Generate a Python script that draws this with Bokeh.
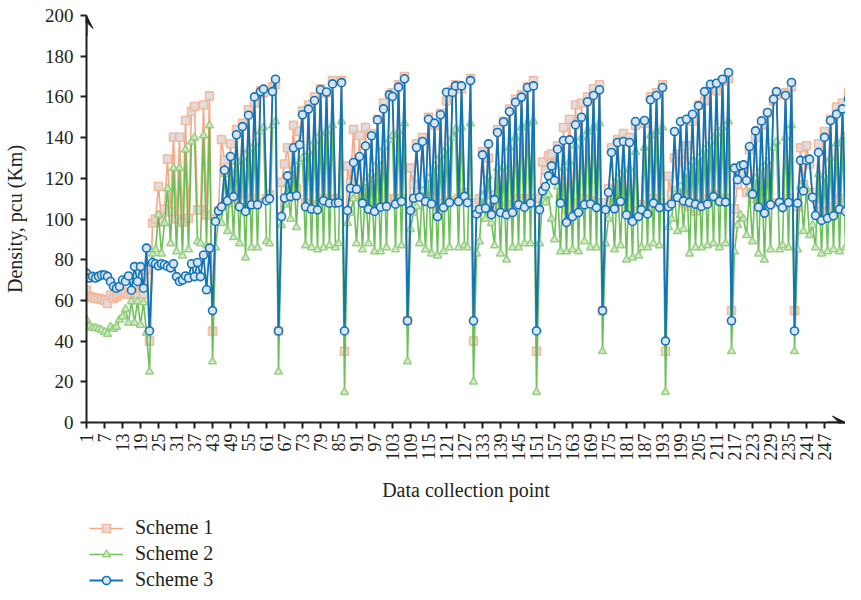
import math
from bokeh.plotting import figure
from bokeh.layouts import column
from bokeh.models import FixedTicker, Legend, LegendItem, Arrow, VeeHead, Range1d
from bokeh.embed import file_html
from bokeh.resources import INLINE

# ---------------- data ----------------
scheme1 = [
    65, 62, 61.5, 61, 61, 60.5, 60, 58.5, 62.5, 61, 62, 63, 64, 64, 63, 63, 64, 63, 66, 63, 75,
    40,
    98, 100, 116, 98.6, 104.8, 129.4, 103.5, 140.2, 100, 140.2, 98.6, 148.4, 100.4, 152.8, 155.3, 104.5, 104.5, 156, 102, 160.5,
    45,
    100, 104, 139, 129, 108, 137, 110, 143.9, 112, 147, 105, 153.7, 110, 157, 108, 163, 162, 110, 112, 165, 166,
    45,
    118, 127, 135, 120, 146, 115, 143, 153, 108, 156, 107, 160, 106, 164, 110, 162, 108, 168, 110, 109, 168,
    35,
    126, 118, 144, 112, 141, 110, 145, 106, 142, 105, 149, 108, 157, 110, 161, 162, 110, 166, 110, 170,
    50,
    125, 117, 137, 113, 140, 110, 150, 111, 146, 106, 152, 108, 158, 109, 163, 166, 110, 164, 113, 110, 169,
    40,
    108, 110, 133, 112, 130, 106, 112, 144, 106, 148, 105, 154, 107, 159, 110, 161, 109, 165, 110, 168,
    35,
    110, 128, 124, 131, 132, 127, 136, 110, 145, 105, 149, 106, 156, 108, 157, 110, 160, 109, 164, 108, 166,
    55,
    108, 115, 135, 108, 139, 110, 142, 105, 140, 102, 146, 104, 107, 147, 106, 160, 110, 162, 108, 166,
    35,
    121, 112, 130, 114, 132, 108, 136, 106, 148, 104, 156, 108, 158, 110, 164, 112, 163, 110, 168, 110, 169,
    55,
    105, 117, 122, 123, 113, 134, 110, 140, 110, 146, 106, 152, 108, 158, 161, 108, 107, 162, 110, 165,
    55,
    106, 135, 117, 136, 127, 113, 110, 137, 104, 143, 103, 149, 106, 155, 110, 157, 108, 162,
]

scheme2 = [
    50.5, 47.5, 46.5, 46.5, 46, 45.5, 44.5, 43.5, 47, 46, 47, 50.5, 52, 55.7, 49, 59.5, 49, 59.5, 48, 59, 44,
    25,
    83, 85, 102, 83, 98, 115, 88, 125, 84, 125, 82, 134, 85, 138, 140, 89, 88, 141, 87, 146,
    30,
    86, 100, 98, 122, 94, 124, 91, 128, 88, 130, 81, 134, 86, 137, 86, 143, 145, 89, 88, 146, 148,
    25,
    97, 107, 117, 100, 125, 96, 128, 130, 87, 133, 86, 138, 85, 142, 86, 143, 87, 146, 86, 88, 148,
    15,
    98, 103, 110, 88, 115, 85, 118, 88, 122, 84, 128, 84, 135, 86, 139, 141, 85, 143, 87, 147,
    30,
    95, 103, 106, 88, 114, 85, 120, 83, 126, 82, 131, 84, 135, 86, 140, 144, 86, 145, 87, 86, 147,
    20,
    83, 89, 111, 100, 121, 98, 87, 125, 83, 126, 80, 135, 86, 140, 86, 145, 88, 147, 88, 148,
    15,
    88, 109, 108, 112, 100, 90, 116, 84, 125, 84, 128, 85, 136, 84, 140, 89, 143, 86, 145, 86, 147,
    35,
    88, 100, 114, 85, 120, 87, 124, 80, 125, 81, 133, 82, 86, 135, 86, 141, 88, 143, 87, 145,
    15,
    96, 100, 112, 94, 116, 95, 123, 83, 128, 86, 130, 86, 134, 87, 138, 88, 142, 86, 145, 88, 148,
    35,
    84, 97, 102, 100, 92, 113, 89, 120, 83, 125, 80, 128, 85, 135, 138, 85, 87, 140, 86, 146,
    35,
    85, 116, 94, 115, 92, 97, 86, 122, 83, 121, 84, 130, 85, 137, 84, 139, 86, 143,
]

scheme3 = [
    73.4, 71.0, 71.8, 71.0, 71.8, 72.5, 72.5, 71.8, 69.3, 66.8, 66.0, 66.8, 70.0, 69.3, 72.0, 65.0, 76.6, 69.3, 76.6, 66.0, 85.7,
    45,
    78.6, 78.0, 77.0, 78.0, 77.5, 76.7, 76.0, 78.0, 71.7, 69.3, 70.0, 72.0, 71.0, 78.0, 71.7, 78.6, 71.7, 82.3, 65.2, 85.7,
    55,
    98.8, 104.0, 106.0, 124.0, 109.0, 130.7, 111.0, 141.4, 106.0, 145.4, 103.7, 151.0, 107.0, 160.0, 107.0, 162.6, 163.8, 109.0, 110.0, 162.6, 168.7,
    45,
    101.2, 110.3, 121.2, 111.0, 135.0, 111.4, 136.5, 151.2, 106.0, 154.0, 104.9, 158.2, 104.5, 163.5, 109.0, 162.4, 107.8, 166.4, 107.8, 108.0, 167.0,
    45,
    104.2, 115.1, 127.8, 114.6, 130.7, 107.8, 135.9, 104.8, 140.9, 103.7, 148.7, 105.8, 154.1, 106.2, 161.0, 160.2, 107.3, 164.8, 108.6, 168.9,
    50,
    104.2, 110.2, 135.1, 110.7, 138.1, 108.6, 149.0, 107.4, 147.1, 101.2, 151.2, 105.6, 162.3, 108.1, 162.2, 165.4, 108.6, 165.4, 111.1, 108.0, 168.0,
    50,
    102.5, 104.8, 131.5, 105.3, 136.9, 102.1, 109.5, 142.5, 103.2, 147.7, 102.1, 152.8, 103.2, 157.4, 107.0, 159.9, 105.8, 164.6, 107.8, 165.4,
    45,
    104.6, 113.8, 116.0, 121.2, 126.1, 118.9, 134.3, 107.8, 138.6, 98.3, 138.9, 101.2, 146.3, 103.2, 150.0, 107.0, 157.6, 107.4, 160.7, 105.6, 163.5,
    55,
    104.6, 113.0, 132.7, 105.0, 137.6, 108.6, 138.1, 102.0, 137.6, 98.8, 147.9, 101.2, 104.6, 148.4, 102.5, 158.6, 107.8, 160.7, 105.6, 164.6,
    40,
    106.0, 107.4, 143.0, 110.6, 147.9, 108.9, 149.0, 108.1, 151.5, 107.3, 155.6, 106.2, 162.6, 107.3, 166.2, 111.0, 166.7, 108.6, 168.7, 108.3, 172.0,
    50,
    125.0, 119.3, 126.1, 126.6, 118.9, 135.6, 112.2, 143.3, 105.8, 148.2, 102.9, 152.3, 107.0, 158.9, 162.6, 108.1, 105.6, 160.7, 108.1, 167.1,
    45,
    107.8, 128.8, 113.8, 128.8, 129.4, 110.7, 101.7, 132.7, 99.3, 140.1, 100.4, 148.4, 101.6, 151.5, 104.8, 154.1, 103.7, 158.9,
]

x_ticks = [1, 7, 13, 19, 25, 31, 37, 43, 49, 55, 61, 67, 73, 79, 85, 91, 97, 103,
           109, 115, 121, 127, 133, 139, 145, 151, 157, 163, 169, 175, 181, 187,
           193, 199, 205, 211, 217, 223, 229, 235, 241, 247]
y_ticks = [0, 20, 40, 60, 80, 100, 120, 140, 160, 180, 200]
labels = ["Scheme 1", "Scheme 2", "Scheme 3"]

x1 = list(range(1, len(scheme1) + 1))
x2 = list(range(1, len(scheme2) + 1))
x3 = list(range(1, len(scheme3) + 1))
series = [(x1, scheme1), (x2, scheme2), (x3, scheme3)]

# ---------------- styles ----------------
INK = "#231f20"
FONT = "Liberation Serif"

styles = [
    dict(line=dict(line_color="#f5a07c", line_width=1.6, line_alpha=0.9),
         mark=dict(marker="square", size=8, fill_color="#dcdcdc", line_color="#f7b394",
                   line_width=1.6, alpha=0.9)),
    dict(line=dict(line_color="#5cb946", line_width=1.6, line_alpha=0.9),
         mark=dict(marker="triangle", size=8, fill_color="#d8e4d2", line_color="#8dcf73",
                   line_width=1.5, alpha=0.9)),
    dict(line=dict(line_color="#0f74ba", line_width=1.8),
         mark=dict(marker="circle", size=8, fill_color="#dde3ea", line_color="#0f74ba",
                   line_width=1.6)),
]

# ---------------- main figure ----------------
p = figure(width=845, height=513, output_backend="svg", toolbar_location=None,
           x_range=Range1d(1, 254), y_range=Range1d(0, 200),
           min_border_left=79, min_border_right=0, min_border_top=15, min_border_bottom=91)
p.outline_line_color = None
p.xgrid.visible = False
p.ygrid.visible = False
p.background_fill_color = "white"
p.border_fill_color = "white"

for (xs, ys), st in zip(series, styles):
    p.line(xs, ys, **st["line"])
    p.scatter(xs, ys, **st["mark"])

for ax in (p.xaxis[0], p.yaxis[0]):
    ax.axis_line_color = INK
    ax.axis_line_width = 2
    ax.major_tick_line_color = INK
    ax.major_tick_line_width = 2
    ax.major_tick_out = 6
    ax.major_tick_in = 0
    ax.minor_tick_line_color = None
    ax.major_label_text_font = FONT
    ax.major_label_text_color = INK
    ax.axis_label_text_font = FONT
    ax.axis_label_text_font_style = "normal"
    ax.axis_label_text_color = INK
    ax.axis_label_text_font_size = "20px"

p.yaxis.ticker = FixedTicker(ticks=y_ticks)
p.yaxis.major_label_text_font_size = "19px"
p.yaxis.axis_label = "Density, pcu (Km)"
p.yaxis.major_label_standoff = 7
p.yaxis.axis_label_standoff = 16

p.xaxis.ticker = FixedTicker(ticks=x_ticks)
p.xaxis.major_label_text_font_size = "18px"
p.xaxis.major_label_orientation = math.pi / 2
p.xaxis.major_label_standoff = 5
p.xaxis.axis_label = "Data collection point"
p.xaxis.axis_label_standoff = 15

p.add_layout(Arrow(end=VeeHead(size=13, fill_color=INK, line_color=INK, line_width=1),
                   x_start=1, y_start=190, x_end=1, y_end=200,
                   line_color=INK, line_width=2))
p.add_layout(Arrow(end=VeeHead(size=13, fill_color=INK, line_color=INK, line_width=1),
                   x_start=248, y_start=0, x_end=254, y_end=0,
                   line_color=INK, line_width=2))

# ---------------- legend strip (same series, out of its view) ----------------
q = figure(width=845, height=79, output_backend="svg", toolbar_location=None,
           x_range=Range1d(0, 1), y_range=Range1d(0, 1),
           min_border_left=77, min_border_right=0, min_border_top=0, min_border_bottom=0)
q.outline_line_color = None
q.axis.visible = False
q.xgrid.visible = False
q.ygrid.visible = False
q.border_fill_color = "white"

items = []
for lab, (xs, ys), st in zip(labels, series, styles):
    lr = q.line(xs, ys, **st["line"])
    mr = q.scatter(xs, ys, **st["mark"])
    items.append(LegendItem(label=lab, renderers=[lr, mr]))

legend = Legend(items=items, location="top_left", orientation="vertical",
                glyph_width=34, glyph_height=20, label_height=20, label_standoff=12,
                spacing=3, padding=0, margin=3,
                label_text_font=FONT, label_text_font_size="20px", label_text_color=INK,
                border_line_color=None, background_fill_alpha=0)
q.add_layout(legend, "center")

layout = column(p, q, spacing=0)
open("out.html", "w").write(file_html(layout, INLINE))
